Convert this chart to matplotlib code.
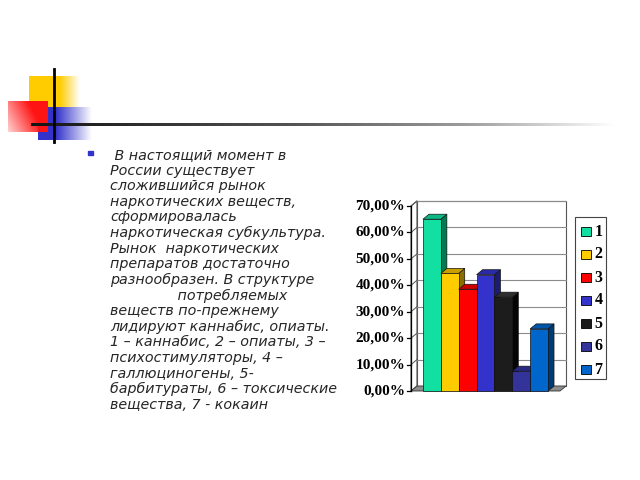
import matplotlib
matplotlib.use("Agg")
import matplotlib.pyplot as plt
from matplotlib.patches import Polygon, Rectangle
import numpy as np

# ---- data ----
categories = ["1", "2", "3", "4", "5", "6", "7"]
values = [65.0, 44.5, 38.5, 44.0, 35.5, 7.5, 23.5]
front_colors = ["#12E0A2", "#FFCC00", "#FF0000", "#3333CC", "#1C1C1C", "#333399", "#0066CC"]
side_colors = ["#007A52", "#8A6E00", "#8A0000", "#1C1C70", "#050505", "#1A1A55", "#003A73"]
top_colors = ["#0BB886", "#C9A000", "#CC0000", "#2A2AA8", "#2E2E2E", "#2A2A80", "#0055AA"]
yticks = [0, 10, 20, 30, 40, 50, 60, 70]
ytick_labels = ["0,00%", "10,00%", "20,00%", "30,00%", "40,00%", "50,00%", "60,00%", "70,00%"]

text_lines = [
    " В настоящий момент в",
    "России существует",
    "сложившийся рынок",
    "наркотических веществ,",
    "сформировалась",
    "наркотическая субкультура.",
    "Рынок  наркотических",
    "препаратов достаточно",
    "разнообразен. В структуре",
    "               потребляемых",
    "веществ по-прежнему",
    "лидируют каннабис, опиаты.",
    "1 – каннабис, 2 – опиаты, 3 –",
    "психостимуляторы, 4 –",
    "галлюциногены, 5-",
    "барбитураты, 6 – токсические",
    "вещества, 7 - кокаин",
]

FW, FH = 640, 480
fig = plt.figure(figsize=(6.4, 4.8), dpi=100)
fig.patch.set_facecolor("white")

# ---- decorative background (pixel coordinates) ----
bg = fig.add_axes([0, 0, 1, 1])
bg.axis("off")

def fade_rect(ax, x0, x1, y0, y1, rgb, solid_until, z):
    n = 128
    xx = np.linspace(x0, x1, n)
    a = np.clip((x1 - xx) / (x1 - solid_until), 0, 1)
    alpha = np.tile(a, (8, 1))
    img = np.zeros(alpha.shape + (4,))
    img[..., 0], img[..., 1], img[..., 2] = rgb
    img[..., 3] = alpha
    ax.imshow(img, extent=(x0, x1, y1, y0), aspect="auto", zorder=z, interpolation="bilinear")

fade_rect(bg, 29, 80, 76, 107, (1.0, 0.80, 0.0), 60, 1)
fade_rect(bg, 38, 92, 107, 140, (0.2, 0.2, 0.8), 56, 2)
# red square: strong at upper right, pale toward lower left
n = 64
xx, yy = np.meshgrid(np.linspace(0, 1, n), np.linspace(0, 1, n))
alpha = np.clip(0.2 + 0.9 * xx + 0.35 * (1 - yy), 0, 1)
img = np.zeros(alpha.shape + (4,))
img[..., 0], img[..., 1], img[..., 2] = (1.0, 0.08, 0.08)
img[..., 3] = alpha
bg.imshow(img, extent=(8, 48, 132, 101), aspect="auto", zorder=3, interpolation="bilinear")

# horizontal fading line
xs = np.linspace(0, 1, 400)
gray = np.interp(xs, [0, 0.45, 0.75, 1.0], [0.08, 0.33, 0.62, 1.0])
line_img = np.tile(np.stack([gray, gray, gray], axis=-1)[None, :, :], (3, 1, 1))
bg.imshow(line_img, extent=(31, 615, 126.3, 123.8), aspect="auto", zorder=4, interpolation="bilinear")
bg.plot([54, 54], [69, 142], color="black", lw=2, zorder=5)

# ---- bullet text ----
bg.add_patch(Rectangle((88, 150.5), 4.5, 4.5, color="#3333CC", zorder=6))
y0 = 155
dy = (405 - 155) / (len(text_lines) - 1)
for i, line in enumerate(text_lines):
    bg.text(110, y0 + i * dy, line, fontsize=10.3, style="italic", family="DejaVu Sans",
            color="#262626", va="center", ha="left", zorder=6)

# ---- legend (drawn in pixel coordinates) ----
bg.add_patch(Rectangle((575, 217), 31, 162, facecolor="white", edgecolor="#444444", lw=0.8, zorder=6))
for i, (lab, c) in enumerate(zip(categories, front_colors)):
    cy = 231 + i * 23
    bg.add_patch(Rectangle((581, cy - 4.5), 9.5, 9.5, facecolor=c, edgecolor="black", lw=0.6, zorder=7))
    bg.text(594.5, cy + 0.5, lab, fontsize=11.5, fontweight="bold", family="Liberation Serif",
            va="center", ha="left", color="black", zorder=7)

bg.set_xlim(0, FW)
bg.set_ylim(FH, 0)

# ---- 3D-ish bar chart ----
W = 17.86   # px per bar unit
S = 2.643   # px per percent
px_left, px_right, py_top, py_bot = 398, 578, 193, 400
ax = fig.add_axes([px_left / FW, 1 - py_bot / FH, (px_right - px_left) / FW, (py_bot - py_top) / FH])
ax.set_xlim((px_left - 423) / W - 0.5, (px_right - 423) / W - 0.5)
ax.set_ylim(-(py_bot - 391) / S, (391 - py_top) / S)
ax.axis("off")

ddx = 6.0 / W
ddy = 5.0 / S
xl = (411 - 423) / W - 0.5
xr = (560 - 423) / W - 0.5
ymax = yticks[-1]

# walls
ax.add_patch(Polygon([(xl, 0), (xl + ddx, ddy), (xl + ddx, ymax + ddy), (xl, ymax)],
                     closed=True, facecolor="white", edgecolor="#555555", lw=0.8, zorder=1))
ax.add_patch(Polygon([(xl + ddx, ddy), (xr + ddx, ddy), (xr + ddx, ymax + ddy), (xl + ddx, ymax + ddy)],
                     closed=True, facecolor="white", edgecolor="#555555", lw=0.8, zorder=1))
for v in yticks[1:]:
    ax.plot([xl + ddx, xr + ddx], [v + ddy, v + ddy], color="#8C8C8C", lw=0.8, zorder=2)
    ax.plot([xl, xl + ddx], [v, v + ddy], color="#555555", lw=0.7, zorder=2)
# floor
ax.add_patch(Polygon([(xl, 0), (xr, 0), (xr + ddx, ddy), (xl + ddx, ddy)],
                     closed=True, facecolor="#8C8C8C", edgecolor="#333333", lw=0.6, zorder=2))
# axis line + ticks
ax.plot([xl, xl], [0, ymax], color="black", lw=0.9, zorder=3)
tick_len = 4.0 / W
for v, lab in zip(yticks, ytick_labels):
    ax.plot([xl - tick_len, xl], [v, v], color="black", lw=0.9, zorder=3)
    ax.text(xl - 6.0 / W, v, lab, ha="right", va="center", fontsize=11, fontweight="bold",
            family="Liberation Serif", color="black")

# bars
x = np.arange(len(values))
z = 4
for i, (v, fc, sc, tc) in enumerate(zip(values, front_colors, side_colors, top_colors)):
    r = x[i] + 0.5
    l = x[i] - 0.5
    ax.add_patch(Polygon([(r, 0), (r + ddx, ddy), (r + ddx, v + ddy), (r, v)], closed=True,
                         facecolor=sc, edgecolor="#111111", lw=0.5, zorder=z))
    ax.add_patch(Polygon([(l, v), (r, v), (r + ddx, v + ddy), (l + ddx, v + ddy)], closed=True,
                         facecolor=tc, edgecolor="#111111", lw=0.5, zorder=z))
    ax.bar(x[i], v, width=1.0, color=fc, edgecolor="#111111", lw=0.5, zorder=z + 1)
    z += 2

fig.savefig("out.png", dpi=100, facecolor="white")
